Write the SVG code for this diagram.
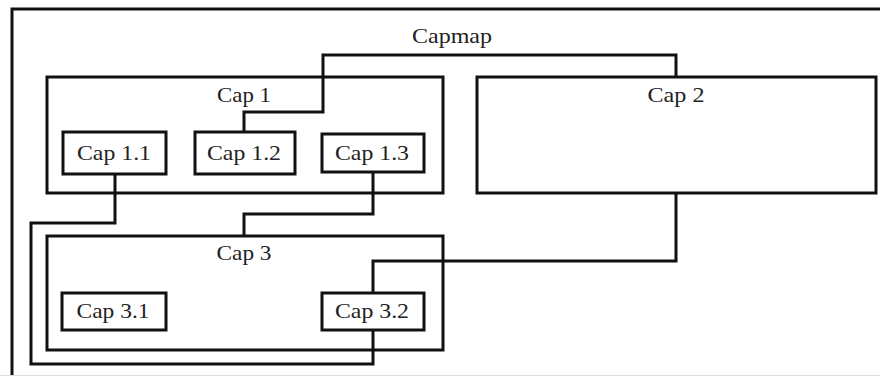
<svg xmlns="http://www.w3.org/2000/svg" width="880" height="376" viewBox="0 0 880 376">
<style>
.box{fill:none;stroke:#111;stroke-width:3}
.wire{fill:none;stroke:#111;stroke-width:3;stroke-linejoin:miter}
text{font-family:"Liberation Serif","Times New Roman",serif;font-size:21px;fill:#222;text-anchor:middle}
</style>
<rect width="880" height="376" fill="#fff"/>
<g id="capmap">
<path class="box" d="M12,378 V9 H882"/>
<line x1="0" y1="375.5" x2="880" y2="375.5" stroke="#ddd" stroke-width="1"/>
<text x="452" y="43" textLength="80" lengthAdjust="spacingAndGlyphs">Capmap</text>
</g>
<g id="cap1">
<rect class="box" x="47" y="77" width="396" height="116"/>
<text x="244" y="102" textLength="54" lengthAdjust="spacingAndGlyphs">Cap 1</text>
</g>
<g id="cap1-1">
<rect class="box" x="63" y="132" width="103" height="42"/>
<text x="114" y="160" textLength="74" lengthAdjust="spacingAndGlyphs">Cap 1.1</text>
</g>
<g id="cap1-2">
<rect class="box" x="195" y="132" width="100" height="42"/>
<text x="244" y="160" textLength="74" lengthAdjust="spacingAndGlyphs">Cap 1.2</text>
</g>
<g id="cap1-3">
<rect class="box" x="322" y="134" width="102" height="38"/>
<text x="372" y="160" textLength="74" lengthAdjust="spacingAndGlyphs">Cap 1.3</text>
</g>
<g id="cap2">
<rect class="box" x="477" y="77" width="399" height="116"/>
<text x="676" y="102" textLength="57" lengthAdjust="spacingAndGlyphs">Cap 2</text>
</g>
<g id="cap3">
<rect class="box" x="47" y="236" width="396" height="114"/>
<text x="244" y="260" textLength="55" lengthAdjust="spacingAndGlyphs">Cap 3</text>
</g>
<g id="cap3-1">
<rect class="box" x="62" y="293" width="104" height="37"/>
<text x="113" y="318" textLength="73" lengthAdjust="spacingAndGlyphs">Cap 3.1</text>
</g>
<g id="cap3-2">
<rect class="box" x="322" y="293" width="102" height="37"/>
<text x="372" y="318" textLength="74" lengthAdjust="spacingAndGlyphs">Cap 3.2</text>
</g>
<g id="connectors">
<path class="wire" d="M244,132 V112 H323 V55 H676 V77"/>
<path class="wire" d="M676,193 V261 H373 V293"/>
<path class="wire" d="M373,172 V214 H244 V236"/>
<path class="wire" d="M115,174 V223 H31 V364 H373 V330"/>
</g>
</svg>
